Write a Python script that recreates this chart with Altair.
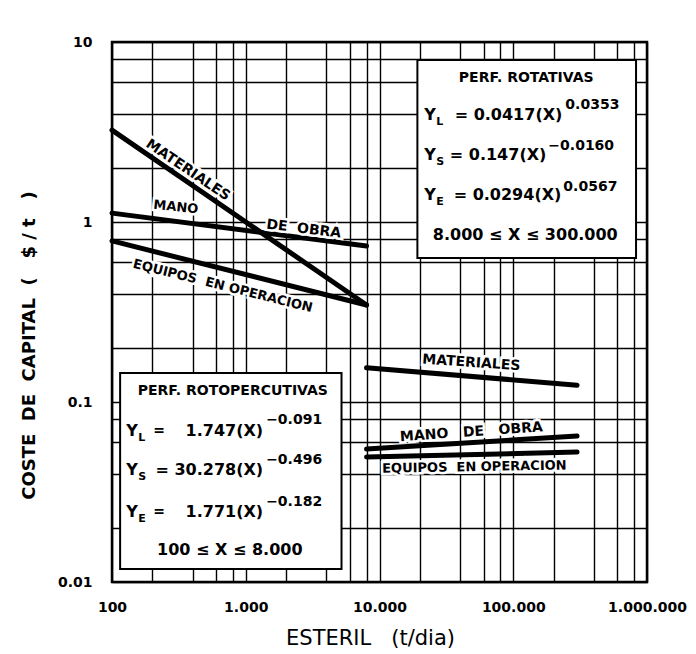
import altair as alt
import pandas as pd

# ---------------- data ----------------
# Perforación rotopercutiva (100 <= X <= 8.000)
roto_x = [100, 8000]
roto_materiales = [3.24, 0.346]
roto_mano_obra = [1.12, 0.736]
roto_equipos = [0.785, 0.346]

# Perforación rotativa (8.000 <= X <= 300.000)
rot_x = [8000, 300000]
rot_materiales = [0.155, 0.124]
rot_mano_obra = [0.0548, 0.0647]
rot_equipos = [0.0495, 0.0527]

# axis grid / labels
x_grid_values = [100, 200, 400, 600, 800, 1000, 2000, 4000, 6000, 8000,
                 10000, 20000, 40000, 60000, 80000, 100000, 200000, 400000,
                 600000, 800000, 1000000]
y_grid_values = [0.01, 0.02, 0.04, 0.06, 0.08, 0.1, 0.2, 0.4, 0.6, 0.8,
                 1, 2, 4, 6, 8, 10]
x_label_values = [100, 1000, 10000, 100000, 1000000]
x_label_texts = ["100", "1.000", "10.000", "100.000", "1.000.000"]
y_label_values = [0.01, 0.1, 1, 10]
y_label_texts = ["0.01", "0.1", "1", "10"]

# ---------------- tables ----------------
rows = []
for name, xs, ys in [
    ("roto_materiales", roto_x, roto_materiales),
    ("roto_mano", roto_x, roto_mano_obra),
    ("roto_equipos", roto_x, roto_equipos),
    ("rot_materiales", rot_x, rot_materiales),
    ("rot_mano", rot_x, rot_mano_obra),
    ("rot_equipos", rot_x, rot_equipos),
]:
    for xv, yv in zip(xs, ys):
        rows.append({"serie": name, "x": xv, "y": yv})
lines_df = pd.DataFrame(rows)

boxes_df = pd.DataFrame([
    {"x": 19200, "x2": 828000, "y": 7.94, "y2": 0.63},
    {"x": 115, "x2": 5200, "y": 0.145, "y2": 0.0118},
])


def label_expr(values, texts):
    expr = "''"
    for v, t in reversed(list(zip(values, texts))):
        expr = f"datum.value == {v} ? '{t}' : ({expr})"
    return expr


FONT = "DejaVu Sans"
SP = "\u00a0"  # non-collapsing space for the wide lettering gaps

x_axis = alt.Axis(
    values=x_grid_values, labelExpr=label_expr(x_label_values, x_label_texts),
    grid=True, gridColor="black", gridWidth=1.4, gridOpacity=1,
    ticks=False, tickSize=0, domain=False,
    labelFont=FONT, labelFontSize=14, labelFontWeight="bold", labelColor="black",
    labelPadding=18, labelFlush=False, labelOverlap=False,
    title=f"ESTERIL {SP}{SP}(t/dia)", titleFont=FONT, titleFontSize=21,
    titleFontWeight=500, titleColor="black",
    titleX=258, titleY=56, titleBaseline="middle", titleAlign="center",
)
y_axis = alt.Axis(
    values=y_grid_values, labelExpr=label_expr(y_label_values, y_label_texts),
    grid=True, gridColor="black", gridWidth=1.4, gridOpacity=1,
    ticks=False, tickSize=0, domain=False,
    labelFont=FONT, labelFontSize=14, labelFontWeight="bold", labelColor="black",
    labelPadding=20, labelFlush=False, labelOverlap=False,
    title=f"COSTE {SP}DE {SP}CAPITAL {SP}({SP}{SP} ${SP}/{SP}t {SP}{SP})",
    titleFont=FONT, titleFontSize=18,
    titleFontWeight="bold", titleColor="black", titleAngle=270,
    titleX=-83, titleY=303, titleBaseline="middle", titleAlign="center",
)

X = alt.X("x:Q", scale=alt.Scale(type="log", domain=[100, 1000000], nice=False), axis=x_axis)
Y = alt.Y("y:Q", scale=alt.Scale(type="log", domain=[0.01, 10], nice=False), axis=y_axis)

layers = []

boxes = alt.Chart(boxes_df).mark_rect(fill="white", stroke="black", strokeWidth=2).encode(
    x=X, x2=alt.X2("x2:Q"), y=Y, y2=alt.Y2("y2:Q")
)
layers.append(boxes)

lines = alt.Chart(lines_df).mark_line(color="black", strokeWidth=5, strokeCap="round").encode(
    x=X, y=Y, detail="serie:N"
)
layers.append(lines)


def text_layer(text, x, y, size, dx=0, dy=0, align="left", angle=0, halo=False):
    df = pd.DataFrame([{"x": x, "y": y, "t": text}])
    out = []
    kw = dict(font=FONT, fontWeight="bold", fontSize=size, dx=dx, dy=dy,
              align=align, baseline="middle", angle=angle)
    if halo:
        out.append(alt.Chart(df).mark_text(color="white", stroke="white",
                                           strokeWidth=5, **kw).encode(x=X, y=Y, text="t:N"))
    out.append(alt.Chart(df).mark_text(color="black", **kw).encode(x=X, y=Y, text="t:N"))
    return out


# labels along the lines
for t, xv, yv, sz, ang in [
    ("MATERIALES", 369, 1.94, 14, 34),
    ("MANO", 300, 1.21, 13, 6),
    (f"DE {SP}OBRA", 2710, 0.914, 14, 7),
    (f"EQUIPOS {SP}EN OPERACION", 673, 0.441, 13, 14),
    ("MATERIALES", 48600, 0.165, 14, 4),
    (f"MANO {SP}{SP}DE {SP}{SP}OBRA", 48600, 0.068, 14, 356),
    (f"EQUIPOS {SP}EN OPERACION", 51200, 0.0435, 13, 359),
]:
    layers += text_layer(t, xv, yv, sz, align="center", angle=ang, halo=True)

# box: perforación rotativa
layers += text_layer("PERF. ROTATIVAS", 125000, 6.31, 14, align="center")
for yv, sub, main, mdx, sup, sdx, sdy in [
    (3.93, "L", "= 0.0417(X)", 136, "0.0353", 139, -10),
    (2.35, "S", "= 0.147(X)", 120, "−0.0160", 122, -9),
    (1.41, "E", "= 0.0294(X)", 135, "0.0567", 137, -8),
]:
    layers += text_layer("Y", 22400, yv, 16, dx=-2)
    layers += text_layer(sub, 22400, yv, 11, dx=10, dy=7)
    layers += text_layer(main, 22400, yv, 16, dx=mdx, align="right")
    layers += text_layer(sup, 22400, yv, 14, dx=sdx, dy=sdy)
layers += text_layer("8.000 ≤ X ≤ 300.000", 123000, 0.848, 16, align="center")

# box: perforación rotopercutiva
layers += text_layer("PERF. ROTOPERCUTIVAS", 800, 0.115, 14, align="center")
for yv, sub, eq, main, sup, sdy in [
    (0.069, "L", "=", "1.747(X)", "−0.091", -11),
    (0.0419, "S", "", "= 30.278(X)", "−0.496", -10),
    (0.0245, "E", "=", "1.771(X)", "−0.182", -10),
]:
    layers += text_layer("Y", 132, yv, 16, dx=-2)
    layers += text_layer(sub, 132, yv, 11, dx=10, dy=7)
    if eq:
        layers += text_layer(eq, 132, yv, 14, dx=25)
    layers += text_layer(main, 132, yv, 16, dx=135, align="right")
    layers += text_layer(sup, 132, yv, 14, dx=138, dy=sdy)
layers += text_layer("100 ≤ X ≤ 8.000", 760, 0.0151, 16, align="center")

chart = alt.layer(*layers).properties(
    width=535, height=540,
    padding={"left": 104, "top": 34, "right": 41, "bottom": 70},
    autosize=alt.AutoSizeParams(type="none"),
    background="white",
).configure_view(stroke="black", strokeWidth=2.5)

chart.save("out.html", embed_options={"renderer": "svg", "actions": False})
